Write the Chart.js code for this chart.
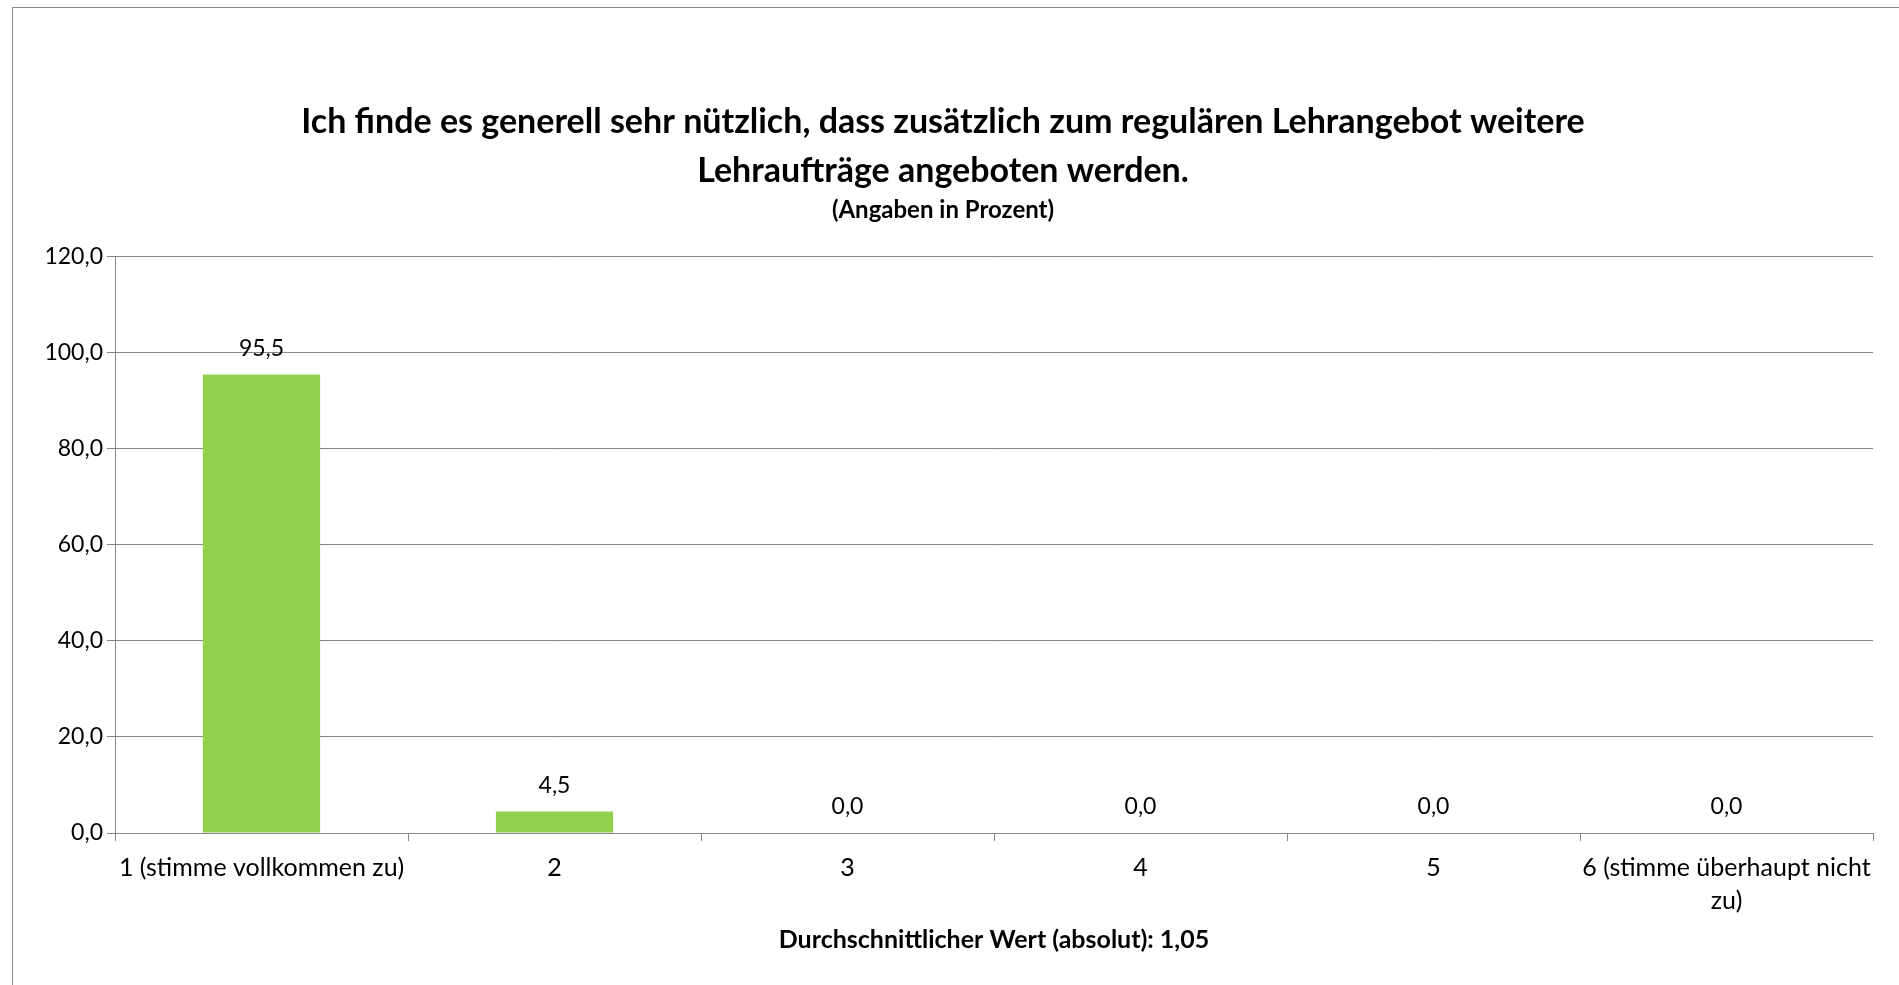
<!DOCTYPE html>
<html>
<head>
<meta charset="utf-8">
<script src="https://cdn.jsdelivr.net/npm/chart.js@4.4.1/dist/chart.umd.min.js"></script>
<style>
  html, body { margin: 0; padding: 0; background: #fff; width: 1899px; height: 985px; overflow: hidden; }
  #frame { position: absolute; left: 12px; top: 7px; width: 1887px; height: 978px;
           border-left: 1px solid #868686; border-top: 1px solid #868686; box-sizing: border-box; }
  #wrap { position: absolute; left: 13px; top: 8px; width: 1886px; height: 977px; }
</style>
</head>
<body>
<div id="frame"></div>
<div id="wrap"><canvas id="c"></canvas></div>
<script>
// ---- data ----
const categories = ['1 (stimme vollkommen zu)', '2', '3', '4', '5', ['6 (stimme überhaupt nicht', 'zu)']];
const percentValues = [95.5, 4.5, 0.0, 0.0, 0.0, 0.0];
const yTickMin = 0;
const yTickMax = 120;
const yTickStep = 20;
const titleLines = ['Ich finde es generell sehr nützlich, dass zusätzlich zum regulären Lehrangebot weitere', 'Lehraufträge angeboten werden.'];
const subtitleText = '(Angaben in Prozent)';
const averageValue = 1.05;

const fmt = v => Number(v).toFixed(1).replace('.', ',');
const fmt2 = v => Number(v).toFixed(2).replace('.', ',');

const valueLabels = {
  id: 'valueLabels',
  afterDatasetsDraw(chart) {
    const ctx = chart.ctx;
    ctx.save();
    ctx.font = '23px Lato';
    ctx.fillStyle = '#000';
    ctx.textAlign = 'center';
    ctx.textBaseline = 'middle';
    chart.data.datasets.forEach((ds, i) => {
      chart.getDatasetMeta(i).data.forEach((el, j) => {
        ctx.fillText(fmt(ds.data[j]), el.x, el.y - 26);
      });
    });
    ctx.restore();
  }
};

function draw() {
  Chart.defaults.color = '#000';
  Chart.defaults.font.family = 'Lato';
  new Chart(document.getElementById('c'), {
    type: 'bar',
    data: {
      labels: categories,
      datasets: [{
        data: percentValues,
        backgroundColor: '#92D050',
        borderWidth: 0,
        barPercentage: 0.4,
        categoryPercentage: 1.0
      }]
    },
    options: {
      responsive: true,
      maintainAspectRatio: false,
      animation: false,
      layout: { padding: { left: 0, right: 26, top: 0, bottom: 0 } },
      plugins: {
        legend: { display: false },
        tooltip: { enabled: false },
        title: {
          display: true,
          text: titleLines,
          font: { family: 'Lato', size: 34, weight: 'bold', lineHeight: 1.44 },
          color: '#000',
          padding: { top: 90, bottom: 0 }
        },
        subtitle: {
          display: true,
          text: subtitleText,
          font: { family: 'Lato', size: 24, weight: 'bold', lineHeight: 1.2 },
          color: '#000',
          padding: { top: 0, bottom: 32 }
        }
      },
      scales: {
        x: {
          grid: { display: true, drawOnChartArea: false, drawTicks: true, tickLength: 8, color: '#868686', lineWidth: 1, offset: true },
          border: { display: true, color: '#868686', width: 1 },
          ticks: { font: { family: 'Lato', size: 25, lineHeight: 1.31 }, color: '#000', padding: 11, maxRotation: 0, autoSkip: false },
          title: {
            display: true,
            text: 'Durchschnittlicher Wert (absolut): ' + fmt2(averageValue),
            font: { family: 'Lato', size: 25, weight: 'bold', lineHeight: 1.2 },
            color: '#000',
            padding: { top: 0, bottom: 30 }
          },
          afterFit(s) { s.height = 152; }
        },
        y: {
          min: yTickMin,
          max: yTickMax,
          grid: { color: '#868686', lineWidth: 1, drawTicks: true, tickLength: 8 },
          border: { display: true, color: '#868686', width: 1 },
          ticks: { stepSize: yTickStep, font: { family: 'Lato', size: 23 }, color: '#000', padding: 4, callback: v => fmt(v) },
          afterFit(s) { s.width = 102; }
        }
      }
    },
    plugins: [valueLabels]
  });
}

if (document.fonts && document.fonts.load) {
  Promise.all([document.fonts.load('25px Lato'), document.fonts.load('bold 34px Lato')]).then(draw, draw);
} else { draw(); }
</script>
</body>
</html>
